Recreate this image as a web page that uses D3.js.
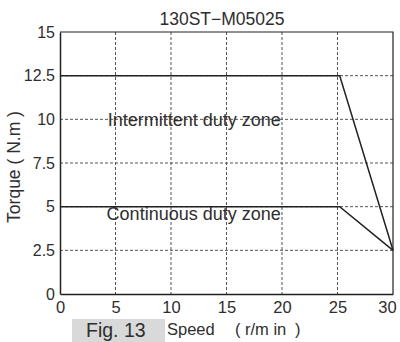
<!DOCTYPE html>
<html><head><meta charset="utf-8">
<script src="https://cdn.jsdelivr.net/npm/d3@7"></script>
<style>body{margin:0;background:#fff}svg{display:block}text{font-family:"Liberation Sans",Arial,sans-serif;fill:#2e2e2e}</style>
</head><body><svg id="c" width="400" height="342"></svg>
<script>
const title = "130ST\u2212M05025";
const xTicks = [0,5,10,15,20,25,30];
const yTicks = [0,2.5,5,7.5,10,12.5,15];
const intermittentSpeed = [0, 25.2, 30];
const intermittentTorque = [12.5, 12.5, 2.5];
const continuousSpeed = [0, 25.2, 30];
const continuousTorque = [5, 5, 2.5];
const zoneLabels = ["Intermittent duty zone", "Continuous duty zone"];
const zoneLabelPos = [[4.3, 9.6], [4.2, 4.25]];

const svg = d3.select("#c");
const L=60, R=393, T=32, B=294;
const x = d3.scaleLinear().domain([0,30]).range([L,R]);
const y = d3.scaleLinear().domain([0,15]).range([B,T]);

// grid
const g = svg.append("g");
g.selectAll(".gx").data(xTicks.slice(1,-1)).join("line")
 .attr("x1",d=>x(d)).attr("x2",d=>x(d)).attr("y1",T).attr("y2",B)
 .attr("stroke","#555").attr("stroke-width",1).attr("stroke-dasharray","3,2");
g.selectAll(".gy").data(yTicks.slice(1,-1)).join("line")
 .attr("y1",d=>y(d)).attr("y2",d=>y(d)).attr("x1",L).attr("x2",R)
 .attr("stroke","#555").attr("stroke-width",1).attr("stroke-dasharray","3,2");

// border: top and right
svg.append("path").attr("d",`M${L},${T}H${R}V${B}`).attr("fill","none").attr("stroke","#222").attr("stroke-width",1.2);

// axes
const ax = svg.append("g").attr("transform",`translate(0,${B})`)
 .call(d3.axisBottom(x).tickValues(xTicks).tickSize(0).tickPadding(6));
ax.select(".domain").attr("stroke","#222").attr("stroke-width",1.5);
ax.selectAll("text").style("font-size","16.5px").attr("fill","#2e2e2e").attr("y",7)
  .attr("dx",d=>d===30?-6:0);
const ay = svg.append("g").attr("transform",`translate(${L},0)`)
 .call(d3.axisLeft(y).tickValues(yTicks).tickSize(0).tickPadding(5).tickFormat(d=>String(d)));
ay.select(".domain").attr("stroke","#222").attr("stroke-width",1.5);
ay.selectAll("text").style("font-size","16px").attr("fill","#2e2e2e");

// lines
const line = d3.line().x(d=>x(d[0])).y(d=>y(d[1]));
svg.append("path").datum(intermittentSpeed.map((s,i)=>[s,intermittentTorque[i]]))
 .attr("d",line).attr("fill","none").attr("stroke","#222").attr("stroke-width",1.5);
svg.append("path").datum(continuousSpeed.map((s,i)=>[s,continuousTorque[i]]))
 .attr("d",line).attr("fill","none").attr("stroke","#222").attr("stroke-width",1.5);

// zone labels
zoneLabels.forEach((t,i)=>{
  svg.append("text").attr("x",x(zoneLabelPos[i][0])).attr("y",y(zoneLabelPos[i][1]))
   .style("font-size","18px").text(t);
});

// title
svg.append("text").attr("x",222).attr("y",25).attr("text-anchor","middle").style("font-size","17.5px").text(title);

// y label
svg.append("text").attr("transform",`translate(20,167) rotate(-90)`)
 .attr("text-anchor","middle").style("font-size","17.5px").text("Torque ( N.m )");

// Fig box
svg.append("rect").attr("x",72).attr("y",319).attr("width",93).attr("height",23).attr("fill","#d9d9d9");
svg.append("text").attr("x",86).attr("y",337).style("font-size","19.5px").text("Fig. 13");
const sp = svg.append("text").attr("y",335).style("font-size","16.5px");
sp.append("tspan").attr("x",167).text("Speed");
sp.append("tspan").attr("x",235).text("(");
sp.append("tspan").attr("x",245).text("r/m in");
sp.append("tspan").attr("x",295).text(")");
</script></body></html>
